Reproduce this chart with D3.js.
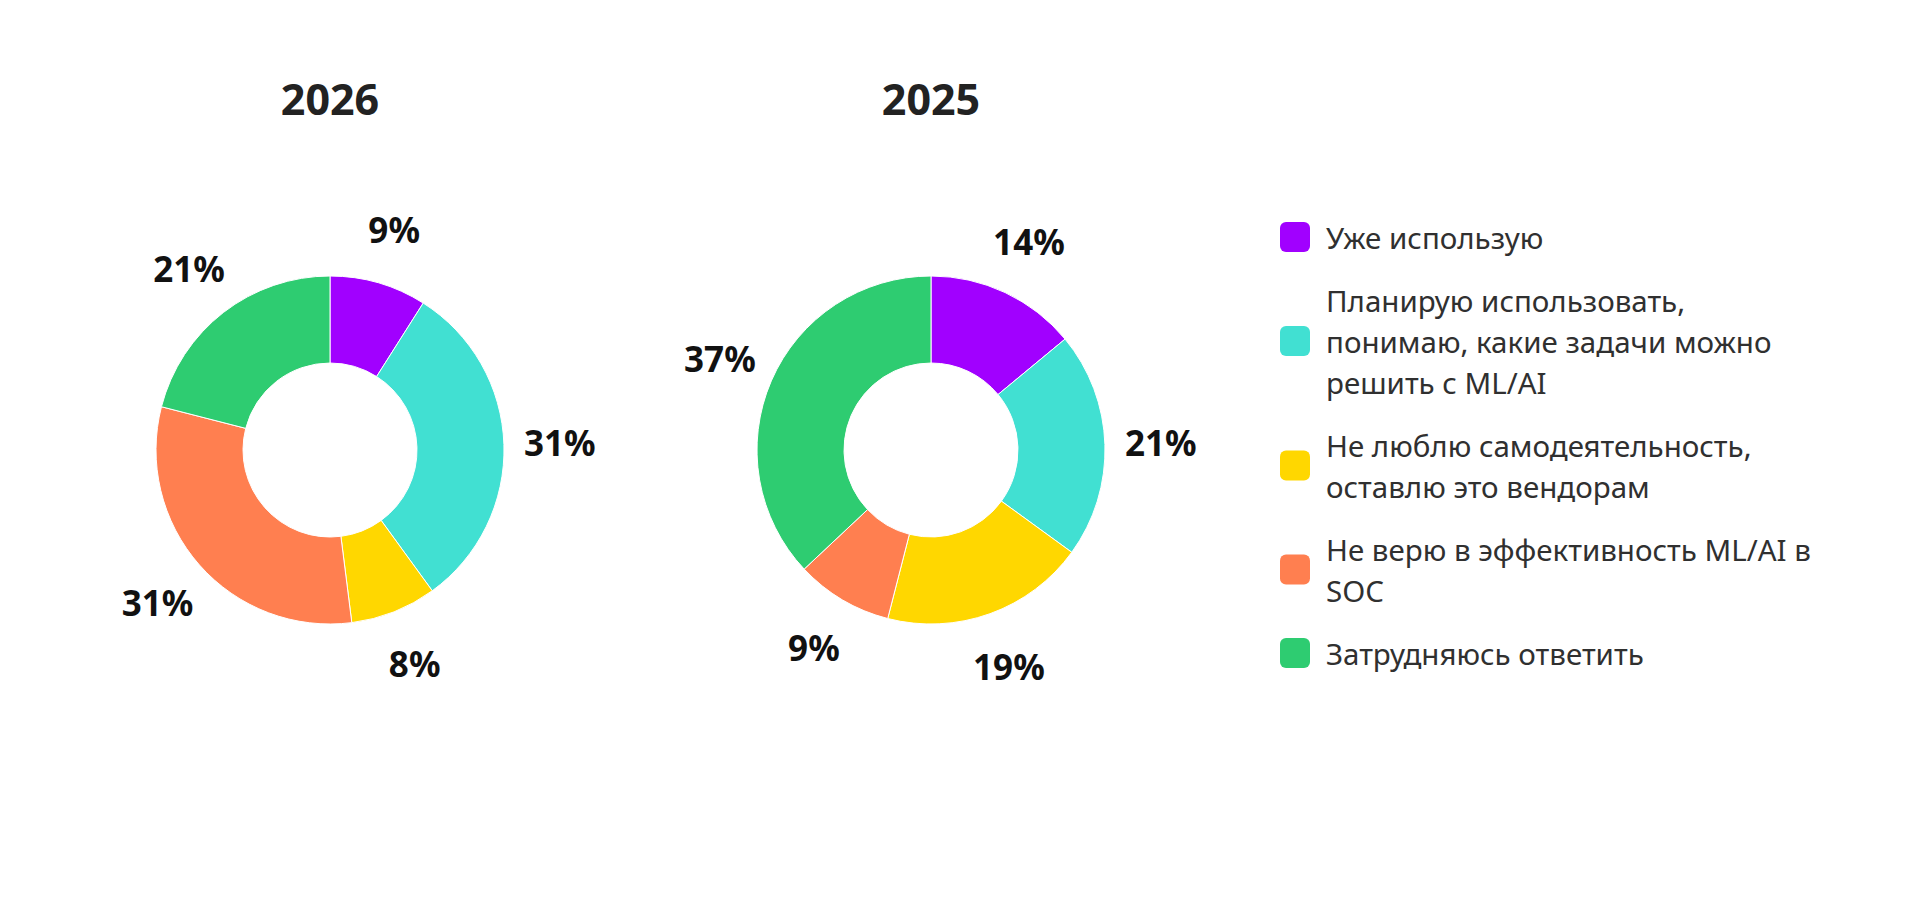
<!DOCTYPE html>
<html>
<head>
<meta charset="utf-8">
<script src="https://cdn.jsdelivr.net/npm/d3@7"></script>
<style>
  body { margin: 0; background: #fff; }
  text { font-family: "Noto Sans", "Open Sans", sans-serif; }
</style>
</head>
<body>
<div id="chart"></div>
<script>
// categories (legend text, line breaks as in the original)
var categories = [
  "Уже использую",
  "Планирую использовать,\nпонимаю, какие задачи можно\nрешить с ML/AI",
  "Не люблю самодеятельность,\nоставлю это вендорам",
  "Не верю в эффективность ML/AI в\nSOC",
  "Затрудняюсь ответить"
];
var colors = ["#a100ff", "#41e0d2", "#ffd700", "#ff7f50", "#2ecc71"];

var years = ["2026", "2025"];
var values2026 = [9, 31, 8, 31, 21];
var values2025 = [14, 21, 19, 9, 37];

var W = 1915, H = 899;

var svg = d3.select("#chart").append("svg")
  .attr("width", W)
  .attr("height", H);

svg.append("rect").attr("width", W).attr("height", H).attr("fill", "#fff");

var pie = d3.pie().sort(null).value(function(d) { return d; });

var arc = d3.arc()
  .innerRadius(87)
  .outerRadius(174);

var labelArc = d3.arc()
  .innerRadius(230)
  .outerRadius(230);

var color = d3.scaleOrdinal().domain(d3.range(categories.length)).range(colors);

var donuts = [
  { year: years[0], values: values2026, cx: 330 },
  { year: years[1], values: values2025, cx: 931 }
];

donuts.forEach(function(dn) {
  svg.append("text")
    .attr("x", dn.cx)
    .attr("y", 115)
    .attr("text-anchor", "middle")
    .style("font-size", "43px")
    .style("font-weight", "700")
    .style("fill", "#222")
    .text(dn.year);

  var g = svg.append("g")
    .attr("transform", "translate(" + dn.cx + ",450)");

  var arcs = pie(dn.values);

  g.selectAll("path")
    .data(arcs)
    .enter()
    .append("path")
    .attr("d", arc)
    .attr("fill", function(d, i) { return color(i); })
    .attr("stroke", "#fff")
    .attr("stroke-width", 1);

  g.selectAll("text")
    .data(arcs)
    .enter()
    .append("text")
    .attr("transform", function(d) { return "translate(" + labelArc.centroid(d) + ")"; })
    .attr("text-anchor", "middle")
    .attr("dominant-baseline", "central")
    .style("font-size", "35px")
    .style("font-weight", "700")
    .style("fill", "#111")
    .text(function(d) { return d.data + "%"; });
});

// legend
var lineH = 41, itemGap = 22;
var legend = svg.append("g").attr("transform", "translate(1280,237)");
var y = 0;
categories.forEach(function(c, i) {
  var lines = c.split("\n");
  var mid = y + (lines.length - 1) * lineH / 2;
  legend.append("rect")
    .attr("x", 0)
    .attr("y", mid - 15)
    .attr("width", 30)
    .attr("height", 30)
    .attr("rx", 6)
    .attr("fill", color(i));
  lines.forEach(function(l, j) {
    legend.append("text")
      .attr("x", 46)
      .attr("y", y + j * lineH)
      .attr("dominant-baseline", "central")
      .style("font-size", "29.5px")
      .style("fill", "#303030")
      .text(l);
  });
  y += lines.length * lineH + itemGap;
});
</script>
</body>
</html>
